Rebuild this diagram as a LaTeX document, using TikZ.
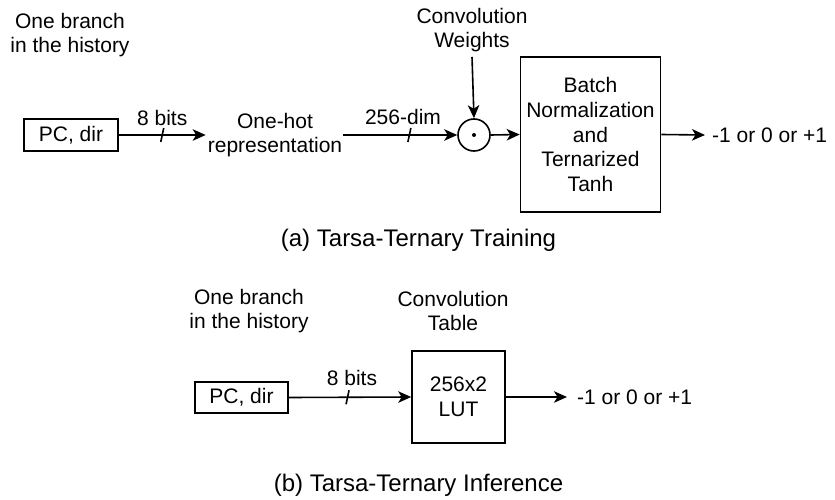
\documentclass[tikz,border=0pt]{standalone}
\usepackage{fontspec}
\setmainfont{Liberation Sans}
\usetikzlibrary{arrows.meta}
\begin{document}
\begin{tikzpicture}[x=1pt,y=-1pt,
  txt/.style={font=\fontsize{21}{24}\selectfont, align=center, inner sep=0pt},
  captxt/.style={font=\fontsize{24}{28}\selectfont, inner sep=0pt},
  blk/.style={draw, line width=1.6pt, font=\fontsize{21}{24.6}\selectfont, align=center, inner sep=0pt},
  conn/.style={line width=1.6pt, -{Stealth[length=13pt,width=11.5pt,inset=3.5pt]}},
  busmark/.style={line width=1.6pt}
]
\useasboundingbox (0,0) rectangle (835,500);

% ---- (a) training path ----
\node[txt] (hist1) at (70,35) {One branch\\in the history};
\node[blk, minimum width=94pt, minimum height=32pt] (pc1) at (71,135) {PC, dir};
\node[txt] (onehot) at (275,135) {One-hot\\representation};
\node[draw, circle, line width=1.6pt, minimum size=32pt, inner sep=0pt] (mul) at (474,135) {};
\fill (mul.center) circle (2pt);
\node[txt] (cw) at (472,30) {Convolution\\Weights};
\node[blk, minimum width=140pt, minimum height=155pt] (bn) at (590.5,134.5)
  {Batch\\Normalization\\and\\Ternarized\\Tanh};
\node[txt, anchor=west] (out1) at (712,135) {-1 or 0 or +1};
\node[captxt] (capa) at (418.5,240) {(a) Tarsa-Ternary Training};

\draw[conn] (pc1.east) -- node[txt, above=8pt] (lb1) {8 bits} coordinate[pos=0.5] (s1) ([xshift=-2pt]onehot.west);
\draw[busmark] ([shift={(-1.5,7)}]s1) -- ([shift={(1.5,-7)}]s1);
\path ([xshift=1pt]onehot.east) -- coordinate[pos=0.58] (s2) (mul.west);
\draw[conn] ([xshift=1pt]onehot.east) -- (mul.west);
\node[txt] (lb2) at (403,117) {256-dim};
\draw[busmark] ([shift={(-1.5,7)}]s2) -- ([shift={(1.5,-7)}]s2);
\draw[conn] ([yshift=-5pt]cw.south) -- (mul.north);
\draw[conn] (mul.east) -- (bn.west);
\draw[conn] (bn.east) -- ([xshift=-7pt]out1.west);

% ---- (b) inference path ----
\node[txt] (hist2) at (249,311) {One branch\\in the history};
\node[txt] (ct) at (453,311) {Convolution\\Table};
\node[blk, minimum width=93pt, minimum height=31pt] (pc2) at (241.5,397.5) {PC, dir};
\node[blk, minimum width=93pt, minimum height=92pt] (lut) at (458.5,397) {256x2\\LUT};
\node[txt, anchor=west] (out2) at (577,397) {-1 or 0 or +1};
\node[captxt] (capb) at (418.5,485) {(b) Tarsa-Ternary Inference};

\draw[conn] (pc2.east) -- coordinate[pos=0.48] (s3) (lut.west);
\node[txt] (lb3) at (352,378) {8 bits};
\draw[busmark] ([shift={(-1.5,7)}]s3) -- ([shift={(1.5,-7)}]s3);
\draw[conn] (lut.east) -- ([xshift=-10pt]out2.west);
\end{tikzpicture}
\end{document}
